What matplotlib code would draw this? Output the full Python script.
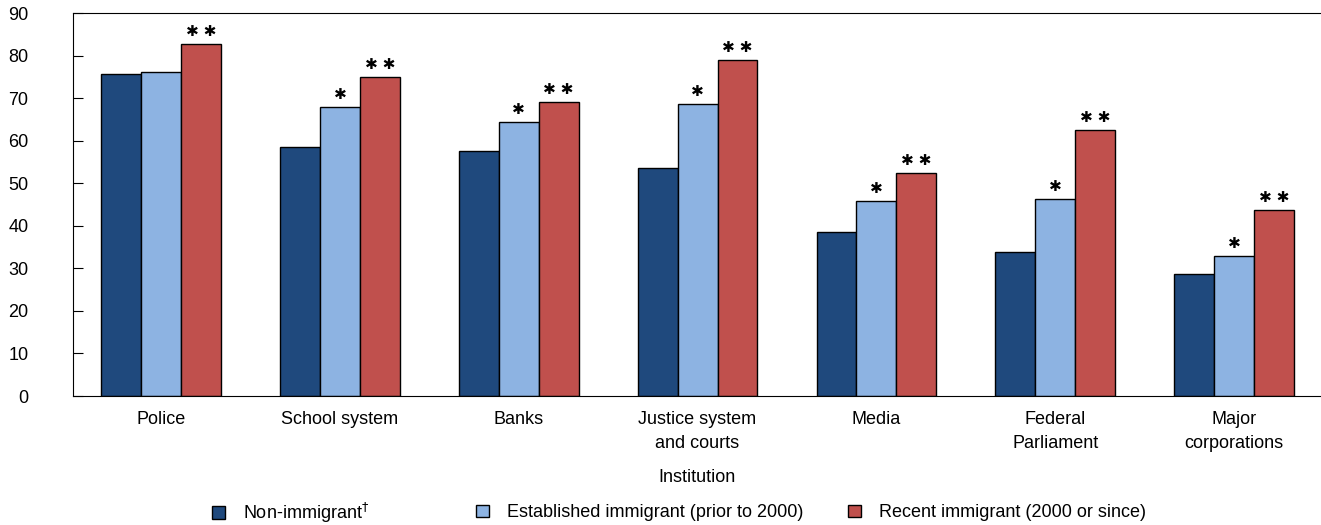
import matplotlib
matplotlib.use('Agg')
import matplotlib.pyplot as plt
import numpy as np

institutions = ['Police', 'School system', 'Banks', 'Justice system\nand courts',
                'Media', 'Federal\nParliament', 'Major\ncorporations']
non_immigrant = [75.6, 58.5, 57.6, 53.6, 38.5, 33.8, 28.7]
established = [76.1, 67.9, 64.4, 68.6, 45.8, 46.3, 32.9]
recent = [82.7, 75.0, 69.1, 78.9, 52.4, 62.5, 43.7]
established_sig = ['', '*', '*', '*', '*', '*', '*']
recent_sig = ['**'] * 7

series_labels = ['Non-immigrant$^{\\dagger}$', 'Established immigrant (prior to 2000)',
                 'Recent immigrant (2000 or since)']
colors = ['#1F497D', '#8DB3E2', '#C0504D']

plt.rcParams['font.family'] = ['Liberation Sans', 'DejaVu Sans']

fig = plt.figure(figsize=(13.21, 5.25), dpi=100)
ax = fig.add_axes([0.0553, 0.2457, 0.9447, 0.7295])

x = np.arange(len(institutions))
w = 0.223
values = [non_immigrant, established, recent]
bars = []
for i, (vals, col, lab) in enumerate(zip(values, colors, series_labels)):
    b = ax.bar(x + (i - 1) * w, vals, width=w, color=col, edgecolor='black',
               linewidth=1.0, label=lab)
    bars.append(b)

def stars(s):
    return ' '.join(['\u2731'] * len(s))

for xi, v, s in zip(x, established, established_sig):
    if s:
        ax.text(xi, v + 1.2, stars(s), ha='center', va='bottom', fontsize=11,
                family='DejaVu Sans')
for xi, v, s in zip(x, recent, recent_sig):
    ax.text(xi + w, v + 1.2, stars(s), ha='center', va='bottom', fontsize=11,
            family='DejaVu Sans')

ax.set_xlim(-0.492, 6.486)
ax.set_ylim(0, 90)
ax.set_yticks(range(0, 91, 10))
ax.set_xticks(x)
ax.set_xticklabels(institutions, fontsize=13, linespacing=1.55)
ax.tick_params(axis='y', direction='in', length=7, labelsize=13, pad=32)
ax.tick_params(axis='x', length=0, pad=11)
ax.spines['right'].set_visible(False)
ax.set_xlabel('Institution', fontsize=13, labelpad=12)

# one legend per entry so the uneven spacing of the original can be kept
legend_x = [0.1605, 0.3603, 0.6419]
for b, lab, lx in zip(bars, series_labels, legend_x):
    leg = fig.legend([b], [lab], loc='center left', bbox_to_anchor=(lx, 0.0229),
                     frameon=False, fontsize=13, handlelength=0.7, handleheight=0.7,
                     handletextpad=1.0, borderpad=0, borderaxespad=0)

fig.savefig('out.png', dpi=100)
